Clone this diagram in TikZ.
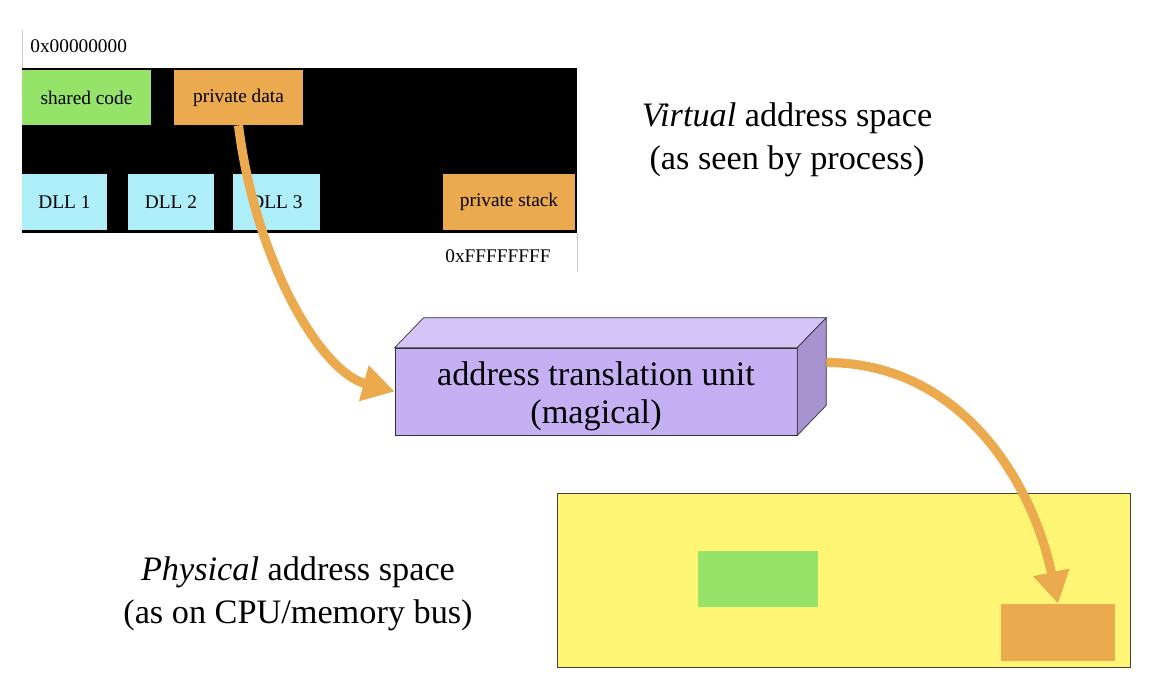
\documentclass[tikz,border=0pt]{standalone}
\usepackage{fontspec}
\setmainfont{Liberation Serif}
\usepackage{tikz}
\usetikzlibrary{arrows.meta}
\usepackage{xcolor}
\definecolor{ColOrange}{RGB}{235,170,78}
\definecolor{ColGreen}{RGB}{150,227,106}
\definecolor{ColCyan}{RGB}{174,238,248}
\definecolor{ColYellow}{RGB}{254,245,116}
\definecolor{ColFront}{RGB}{197,176,244}
\definecolor{ColTop}{RGB}{212,196,247}
\definecolor{ColSide}{RGB}{166,147,208}
\tikzstyle{MemBlock}=[rectangle,inner sep=0pt,minimum height=1.1cm,
font=\fontsize{11}{13}\selectfont]
\tikzstyle{BigText}=[align=center,font=\fontsize{19.5}{24.5}\selectfont]
\tikzstyle{ArrowMap}=[ColOrange,line width=5.2pt,
-{Triangle[width=0.7cm,length=0.64cm]}]

\begin{document}
\begin{tikzpicture}[x=0.02cm,y=-0.02cm]
        \useasboundingbox[fill=white](0,0)rectangle(1160,686);
        % virtual address space
        \draw[gray!40,thin](22,30)--(22,68);
        \draw[gray!40,thin](577,233)--(577,272);
        \node[MemBlock,fill=black,minimum width=11.1cm,minimum height=3.3cm](vspace)at(299.5,150.5){};
        \node[MemBlock,fill=ColGreen,minimum width=2.58cm](shared)at(86.5,97.5){shared code};
        \node[MemBlock,fill=ColOrange,minimum width=2.58cm](pdata)at(238.5,97.5){private data};
        \node[MemBlock,fill=ColCyan,minimum width=1.7cm,minimum height=1.12cm](dlla)at(64.5,202){DLL 1};
        \node[MemBlock,fill=ColCyan,minimum width=1.72cm,minimum height=1.12cm](dllb)at(171,202){DLL 2};
        \node[MemBlock,fill=ColCyan,minimum width=1.74cm,minimum height=1.12cm](dllc)at(276.5,202){DLL 3};
        \node[MemBlock,fill=ColOrange,minimum width=2.64cm,minimum height=1.12cm](pstack)at(509,202){private stack};
        \node[MemBlock,anchor=west,minimum height=0pt](lowaddr)at(30,46){0x00000000};
        \node[MemBlock,minimum height=0pt](highaddr)at(498,256){0xFFFFFFFF};
        \node[BigText](vlabel)at(787,140){\textit{Virtual} address space\\(as seen by process)};
        % translation unit
        \node[fill=ColFront,draw=black!80,thin,minimum width=8.04cm,minimum height=1.74cm,
        inner sep=0pt](atu)at(596,391.5){};
        \draw[black!80,thin,fill=ColTop](atu.north west)--([shift={(0.58cm,0.6cm)}]atu.north west)
        --([shift={(0.58cm,0.6cm)}]atu.north east)--(atu.north east)--cycle;
        \draw[black!80,thin,fill=ColSide](atu.north east)--([shift={(0.58cm,0.6cm)}]atu.north east)
        --([shift={(0.58cm,0.6cm)}]atu.south east)--(atu.south east)--cycle;
        \node[BigText,font=\fontsize{19.5}{21.5}\selectfont](atutext)at([yshift=-0.1cm]atu.center)
        {address translation unit\\(magical)};
        \coordinate(atuout)at([shift={(0.58cm,0.58cm)}]atu.east);
        % physical address space
        \node[MemBlock,fill=ColYellow,draw=black!75,thin,minimum width=11.46cm,minimum height=3.48cm](pspace)at(843.5,580){};
        \node[MemBlock,fill=ColGreen,minimum width=2.4cm,minimum height=1.12cm](pshared)at(758,579){};
        \node[MemBlock,fill=ColOrange,minimum width=2.28cm,minimum height=1.14cm](pframe)at(1058,632.5){};
        \node[BigText](plabel)at(298,594){\textit{Physical} address space\\(as on CPU/memory bus)};
        % mappings
        \draw[ArrowMap](pdata.south)to[out=-83,in=165,out looseness=1.1,in looseness=0.65](atu.west);
        \draw[ArrowMap](atuout)to[out=0,in=102](pframe.north);
    \end{tikzpicture}
\end{document}
